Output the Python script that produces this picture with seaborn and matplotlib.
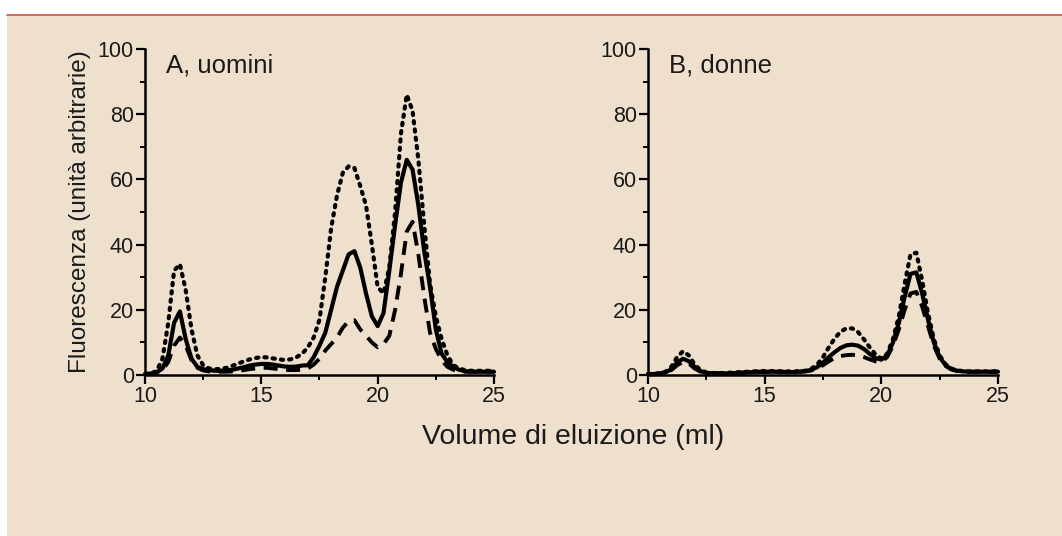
import numpy as np
import pandas as pd
import seaborn as sns
import matplotlib
matplotlib.use("Agg")
import matplotlib.pyplot as plt
from matplotlib.patches import Rectangle
from matplotlib.lines import Line2D
from matplotlib.ticker import MultipleLocator

# ---------------- data ----------------
volume = [10.0 + 0.25 * i for i in range(61)]  # ml, 10 .. 25

# Panel A, uomini
a_solid = [0.3, 0.4, 0.8, 2.0, 6, 16, 19.5, 11, 5, 2.5,
           1.8, 1.5, 1.3, 1.3, 1.4, 1.6, 2.0, 2.4, 2.9, 3.2,
           3.4, 3.4, 3.2, 2.9, 2.6, 2.5, 2.6, 2.9, 3.0, 5.5,
           9, 13, 20, 27, 32, 37, 38, 33, 25, 18,
           15, 19, 32, 46, 59, 66, 63, 52, 38, 27,
           14, 6.5, 4, 2.5, 1.6, 1.2, 1.0, 1.0, 1.0, 1.0, 1.0]
a_dotted = [0.3, 0.5, 1.2, 5, 16, 32, 34, 26, 14, 6,
            3, 2, 1.8, 1.8, 2.2, 2.8, 3.5, 4.2, 4.8, 5.2,
            5.5, 5.4, 5.1, 4.8, 4.6, 4.8, 5.4, 6.5, 8.5, 11.5,
            17, 30, 45, 55, 62, 64, 63.5, 58, 52, 40,
            27, 25, 33, 50, 74, 86, 81, 66, 46, 28,
            18, 11, 6, 3, 2, 1.5, 1.3, 1.3, 1.3, 1.3, 1.3]
a_dashed = [0.3, 0.4, 0.7, 1.5, 4, 9, 11.5, 9, 4.5, 2.2,
            1.4, 1.1, 1.0, 1.0, 1.0, 1.1, 1.3, 1.5, 1.8, 2.0,
            2.2, 2.2, 2.0, 1.8, 1.6, 1.5, 1.5, 1.6, 2.0, 3.2,
            5, 7.5, 9.5, 11.5, 14.5, 16.5, 16.8, 14, 12, 10,
            8.5, 9.5, 12, 20, 31, 44, 47, 37, 24, 13,
            8, 4.5, 2.5, 1.6, 1.2, 1.0, 1.0, 1.0, 1.0, 1.0, 1.0]

# Panel B, donne
b_solid = [0.3, 0.3, 0.5, 0.8, 1.8, 3.8, 5, 4.2, 2.5, 1.2,
           0.7, 0.5, 0.5, 0.5, 0.5, 0.6, 0.7, 0.8, 0.9, 1.0,
           1.0, 1.0, 1.0, 1.0, 0.9, 0.9, 1.0, 1.2, 1.6, 2.4,
           3.8, 5.5, 7, 8.3, 9.1, 9.3, 9.0, 8.0, 6.5, 5.2,
           4.7, 6, 10, 16, 24, 31, 31.5, 25, 17, 10,
           5.5, 3, 1.8, 1.3, 1.1, 1.0, 1.0, 1.0, 1.0, 1.0, 1.0]
b_dotted = [0.3, 0.3, 0.5, 1.0, 2.5, 5.5, 7.3, 6, 3.2, 1.5,
            0.8, 0.6, 0.6, 0.6, 0.7, 0.8, 0.9, 1.0, 1.1, 1.2,
            1.2, 1.2, 1.2, 1.1, 1.1, 1.1, 1.2, 1.3, 1.9, 3.2,
            5.5, 8.5, 11.2, 13.3, 14.3, 14.3, 13.2, 11, 8.5, 6.3,
            5, 6.5, 11, 18, 28, 37, 37.5, 29, 19, 11,
            6, 3.3, 2, 1.4, 1.2, 1.1, 1.1, 1.1, 1.1, 1.1, 1.1]
b_dashed = [0.3, 0.3, 0.4, 0.7, 1.5, 3.0, 4.0, 3.5, 2.0, 1.0,
            0.6, 0.5, 0.5, 0.5, 0.5, 0.6, 0.7, 0.8, 0.9, 0.9,
            0.9, 0.9, 0.9, 0.9, 0.9, 0.9, 1.0, 1.1, 1.4, 2.0,
            3.0, 4.2, 5.2, 5.8, 6.1, 6.2, 6.0, 5.5, 4.8, 4.2,
            4.0, 5.5, 9, 14, 20, 25, 25.5, 21, 15, 9,
            5, 2.8, 1.7, 1.2, 1.0, 1.0, 1.0, 1.0, 1.0, 1.0, 1.0]

panel_labels = ["A, uomini", "B, donne"]
x_ticks = [10, 15, 20, 25]
y_ticks = [0, 20, 40, 60, 80, 100]
x_label = "Volume di eluizione (ml)"
y_label = "Fluorescenza (unità arbitrarie)"

# ---------------- styling ----------------
sns.set_theme(style="ticks")
plt.rcParams['font.family'] = ['Liberation Sans', 'DejaVu Sans']

BEIGE = "#EEE0CD"
RED = "#D0504A"
TXT = "#1a1a1a"

fig = plt.figure(figsize=(10.62, 5.36), dpi=100, facecolor="white")
fig.patches.append(Rectangle((7 / 1062, 0), 1 - 7 / 1062, (536 - 15) / 536,
                             transform=fig.transFigure, facecolor=BEIGE,
                             edgecolor="none", zorder=-5))
fig.lines.append(Line2D([7 / 1062, 1], [(536 - 14.5) / 536] * 2,
                        transform=fig.transFigure, color=RED, lw=1.2, zorder=-4))

bottom = 1 - 375 / 536
height = (375 - 49) / 536
axA = fig.add_axes([145 / 1062, bottom, (494 - 145) / 1062, height])
axB = fig.add_axes([648 / 1062, bottom, (998 - 648) / 1062, height])

styles = {
    "solid": dict(linestyle="-", lw=3.0),
    "dotted": dict(linestyle=(0, (0.55, 1.45)), lw=3.0, dash_capstyle="round"),
    "dashed": dict(linestyle=(0, (3.6, 2.2)), lw=2.8),
}

panels = [
    (axA, {"solid": a_solid, "dotted": a_dotted, "dashed": a_dashed}, panel_labels[0]),
    (axB, {"solid": b_solid, "dotted": b_dotted, "dashed": b_dashed}, panel_labels[1]),
]

for ax, series, lab in panels:
    ax.set_facecolor("none")
    for name in ["dashed", "dotted", "solid"]:
        df = pd.DataFrame({"x": volume, "y": series[name]})
        sns.lineplot(data=df, x="x", y="y", ax=ax, color="black",
                     estimator=None, sort=False, legend=False,
                     clip_on=False, **styles[name])
    ax.set_xlim(10, 25)
    ax.set_ylim(0, 100)
    ax.set_xticks(x_ticks)
    ax.set_yticks(y_ticks)
    ax.xaxis.set_minor_locator(MultipleLocator(2.5))
    ax.yaxis.set_minor_locator(MultipleLocator(10))
    ax.tick_params(axis="both", which="major", direction="out", length=6.5,
                   width=1.6, labelsize=15.5, color="black", labelcolor=TXT,
                   pad=1.5)
    ax.tick_params(axis="both", which="minor", direction="out", length=3.5,
                   width=1.4, color="black")
    for s in ["top", "right"]:
        ax.spines[s].set_visible(False)
    for s in ["left", "bottom"]:
        ax.spines[s].set_linewidth(1.8)
        ax.spines[s].set_color("black")
    ax.set_xlabel("")
    ax.set_ylabel("")
    ax.text(0.06, 0.985, lab, transform=ax.transAxes, ha="left", va="top",
            fontsize=18.5, color=TXT)

axA.set_ylabel(y_label, fontsize=17.5, color=TXT, labelpad=5)
fig.text(573 / 1062, 1 - 437 / 536, x_label, ha="center", va="center",
         fontsize=20.5, color=TXT)

fig.savefig("out.png", dpi=100, facecolor=fig.get_facecolor())
